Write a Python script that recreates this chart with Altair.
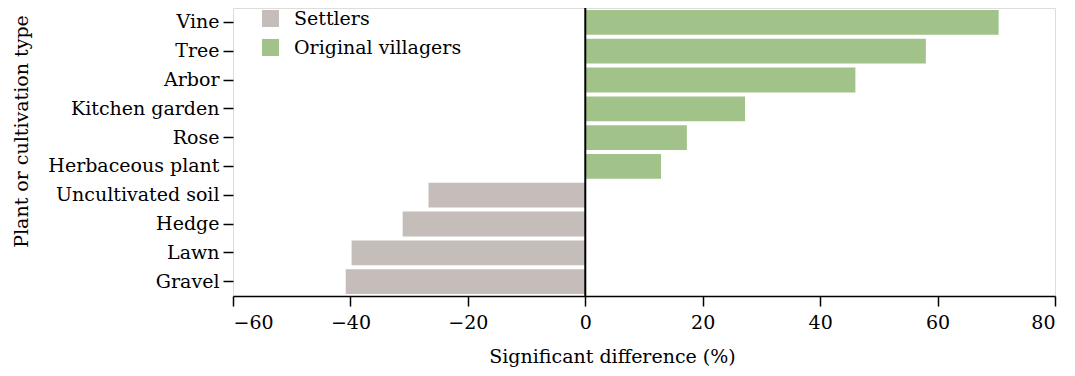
import altair as alt
import pandas as pd

categories = ["Vine", "Tree", "Arbor", "Kitchen garden", "Rose", "Herbaceous plant",
              "Uncultivated soil", "Hedge", "Lawn", "Gravel"]
values = [70.4, 58.0, 46.0, 27.2, 17.3, 12.9, -26.7, -31.1, -39.8, -40.8]
groups = ["Original villagers"] * 6 + ["Settlers"] * 4
group_order = ["Settlers", "Original villagers"]
group_colors = ["#c4bdba", "#a1c288"]
x_ticks = [-60, -40, -20, 0, 20, 40, 60, 80]

df = pd.DataFrame({"cat": categories, "val": values, "grp": groups})

FONT = "DejaVu Serif"
FS = 19

bars = alt.Chart(df).mark_bar().encode(
    y=alt.Y("cat:N", sort=categories,
            scale=alt.Scale(paddingInner=0.14, paddingOuter=0.07),
            axis=alt.Axis(title="Plant or cultivation type", domain=False, ticks=True,
                          tickSize=10, tickColor="black", tickWidth=1.5,
                          labelPadding=4, labelFont=FONT, labelFontSize=FS,
                          labelColor="black", labelLimit=400, titleFont=FONT, titleFontSize=FS,
                          titleFontWeight="normal", titleColor="black",
                          titleAngle=270, titleAlign="center", titleBaseline="alphabetic",
                          titleX=-206, titleY=123)),
    x=alt.X("val:Q", scale=alt.Scale(domain=[-60, 80], nice=False, zero=False),
            axis=alt.Axis(title="Significant difference (%)", values=x_ticks, grid=False,
                          tickSize=10, tickColor="black", tickWidth=1.5,
                          domainColor="black", domainWidth=1.5,
                          labelPadding=7, labelFont=FONT, labelFontSize=FS,
                          labelColor="black", titleFont=FONT, titleFontSize=FS,
                          titleFontWeight="normal", titleColor="black",
                          titleAnchor="start", titleAlign="center",
                          titleBaseline="alphabetic", titleX=379, titleY=66)),
    color=alt.Color("grp:N", scale=alt.Scale(domain=group_order, range=group_colors),
                    legend=alt.Legend(title=None, orient="none", legendX=28, legendY=1,
                                      symbolType="square", symbolSize=289,
                                      symbolStrokeWidth=0, symbolOpacity=1,
                                      labelFont=FONT, labelFontSize=FS, labelColor="black",
                                      labelLimit=400, labelOffset=14, rowPadding=9)),
)

zero = alt.Chart(pd.DataFrame({"z": [0]})).mark_rule(color="black", strokeWidth=2).encode(
    x=alt.X("z:Q")
)

chart = alt.layer(bars, zero).properties(
    width=822, height=288,
    autosize=alt.AutoSizeParams(type="none"),
    padding={"left": 225, "top": 0, "right": 12, "bottom": 72},
).configure_view(strokeWidth=0).configure(background="white", font=FONT)

chart.save("out.html", embed_options={"renderer": "svg", "actions": False})
